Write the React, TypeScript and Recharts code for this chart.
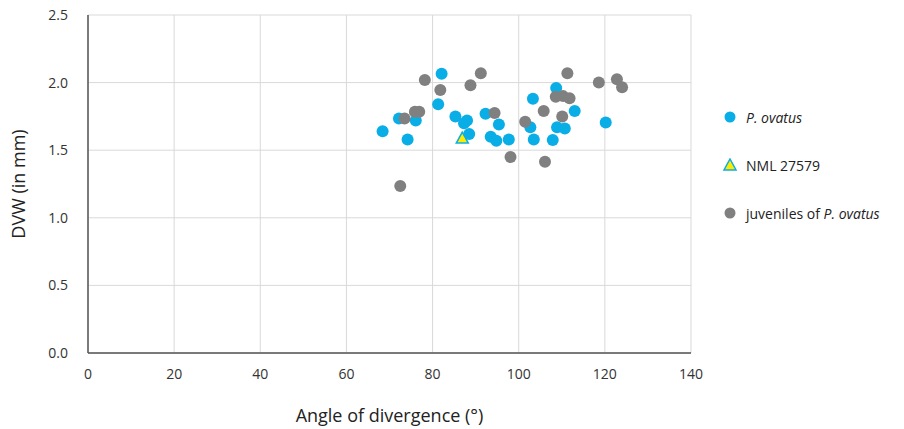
import { ScatterChart, Scatter, XAxis, YAxis, CartesianGrid, Label } from "recharts";

// P. ovatus adults: [angle, DVW]
const ovatusAngle = [68.4, 72.2, 74.2, 76.1, 82.1, 81.3, 85.3, 87.3, 88.0, 88.5, 92.3, 95.4, 93.5, 94.8, 97.7, 103.3, 102.7, 103.5, 108.7, 108.9, 110.7, 107.9, 113.0, 120.2];
const ovatusDvw = [1.64, 1.735, 1.58, 1.72, 2.065, 1.84, 1.75, 1.70, 1.72, 1.62, 1.77, 1.69, 1.60, 1.57, 1.58, 1.88, 1.67, 1.58, 1.96, 1.67, 1.66, 1.575, 1.79, 1.705];

const nmlAngle = [86.9];
const nmlDvw = [1.59];

const juvAngle = [72.5, 73.5, 75.9, 76.9, 78.2, 81.8, 88.8, 91.2, 94.4, 98.1, 101.5, 105.8, 106.1, 111.3, 108.6, 110.3, 111.8, 110.1, 118.6, 122.8, 124.0];
const juvDvw = [1.235, 1.735, 1.785, 1.785, 2.02, 1.945, 1.98, 2.07, 1.775, 1.45, 1.71, 1.79, 1.415, 2.07, 1.895, 1.90, 1.885, 1.75, 2.0, 2.025, 1.965];

const xTicks = [0, 20, 40, 60, 80, 100, 120, 140];
const yTicks = [0, 0.5, 1, 1.5, 2, 2.5];

const BLUE = "#0aaee6";
const GRAY = "#808080";
const FONT = "'Open Sans', sans-serif";

const zip = (xs: number[], ys: number[]) => xs.map((x, i) => ({ x, y: ys[i] }));

const ovatus = zip(ovatusAngle, ovatusDvw);
const nml = zip(nmlAngle, nmlDvw);
const juveniles = zip(juvAngle, juvDvw);

const Dot = (color: string) => (props: any) => (
  <circle cx={props.cx} cy={props.cy} r={6} fill={color} />
);

const Tri = (props: any) => {
  const { cx, cy } = props;
  return (
    <polygon
      points={`${cx},${cy - 6} ${cx + 6},${cy + 5} ${cx - 6},${cy + 5}`}
      fill="#ffeb00"
      stroke={BLUE}
      strokeWidth={1.5}
    />
  );
};

function LegendBox() {
  const row = { display: "flex", alignItems: "center", height: 48, fontFamily: FONT, fontSize: 14, color: "#222" };
  return (
    <div style={{ position: "absolute", left: 722, top: 93 }}>
      <div style={row}>
        <svg width={24} height={14}><circle cx={8} cy={7} r={5.5} fill={BLUE} /></svg>
        <span><i>P. ovatus</i></span>
      </div>
      <div style={row}>
        <svg width={24} height={14}><polygon points="8,1 14,12 2,12" fill="#ffeb00" stroke={BLUE} strokeWidth={1.5} /></svg>
        <span>NML 27579</span>
      </div>
      <div style={row}>
        <svg width={24} height={14}><circle cx={8} cy={7} r={5.5} fill={GRAY} /></svg>
        <span>juveniles of <i>P. ovatus</i></span>
      </div>
    </div>
  );
}

export default function App() {
  return (
    <div style={{ position: "absolute", left: 0, top: 0, width: 904, height: 429, background: "#fff" }}>
      <ScatterChart width={904} height={429} margin={{ top: 15, right: 213, left: 0, bottom: 0 }}>
        <CartesianGrid stroke="#d9d9d9" strokeWidth={1} />
        <XAxis
          type="number"
          dataKey="x"
          domain={[0, 140]}
          ticks={xTicks}
          height={76}
          tickLine={false}
          axisLine={{ stroke: "#555", strokeWidth: 1.5 }}
          tick={{ fontSize: 14, fill: "#333", fontFamily: FONT }}
          tickMargin={10}
        >
          <Label value="Angle of divergence (°)" position="insideBottom" offset={7} style={{ fontSize: 18, fill: "#222", fontFamily: FONT }} />
        </XAxis>
        <YAxis
          type="number"
          dataKey="y"
          domain={[0, 2.5]}
          ticks={yTicks}
          width={88}
          tickLine={false}
          axisLine={{ stroke: "#555", strokeWidth: 1.5 }}
          tick={{ fontSize: 14, fill: "#333", fontFamily: FONT }}
          tickFormatter={(v: number) => v.toFixed(1)}
          tickMargin={14}
        >
          <Label value="DVW (in mm)" angle={-90} position="insideLeft" offset={19} style={{ fontSize: 18, fill: "#222", fontFamily: FONT, textAnchor: "middle" }} />
        </YAxis>
        <Scatter name="P. ovatus" data={ovatus} shape={Dot(BLUE)} isAnimationActive={false} />
        <Scatter name="juveniles of P. ovatus" data={juveniles} shape={Dot(GRAY)} isAnimationActive={false} />
        <Scatter name="NML 27579" data={nml} shape={Tri} isAnimationActive={false} />
      </ScatterChart>
      <LegendBox />
    </div>
  );
}
